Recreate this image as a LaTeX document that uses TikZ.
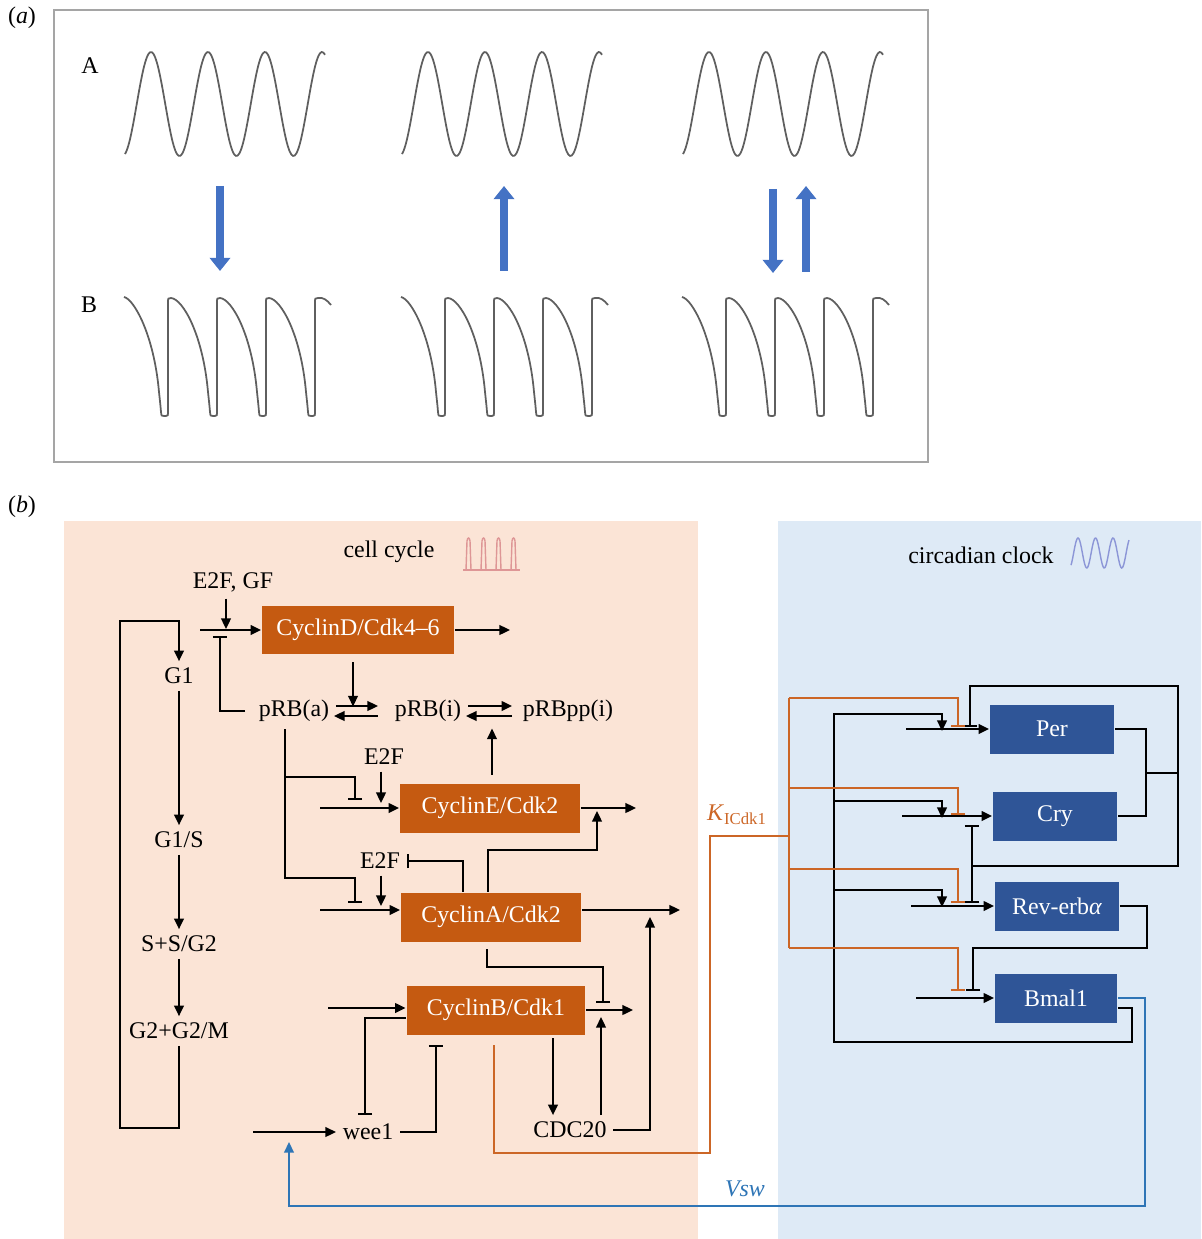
\documentclass[tikz,border=0pt]{standalone}
\usepackage{fontspec}
\setmainfont{Liberation Serif}
\usetikzlibrary{arrows.meta,calc,positioning}
\definecolor{BoxOrange}{RGB}{197,90,17}
\definecolor{BoxBlue}{RGB}{47,85,151}
\definecolor{PaleOrange}{RGB}{251,228,214}
\definecolor{PaleBlue}{RGB}{222,234,246}
\definecolor{LineOrange}{RGB}{204,102,38}
\definecolor{LineBlue}{RGB}{46,117,182}
\definecolor{ArrowBlue}{RGB}{68,114,196}
\definecolor{WaveGray}{RGB}{95,95,95}
\definecolor{FrameGray}{RGB}{165,165,165}
\definecolor{SpikePink}{RGB}{222,150,150}
\definecolor{WavePurple}{RGB}{140,150,215}

\begin{document}
\begin{tikzpicture}[x=0.02cm, y=-0.02cm, line width=1.1pt,
		font=\fontsize{13.6}{16}\selectfont,
		act/.style={-{Triangle[length=6pt,width=5.5pt]}},
		inh/.style={-{Bar[width=8pt]}},
		cbox/.style={fill=BoxOrange, text=white, minimum height=0.98cm, inner sep=0pt},
		bbox/.style={fill=BoxBlue, text=white, minimum height=0.98cm, minimum width=2.48cm, inner sep=0pt},
		kline/.style={LineOrange, line width=1pt},
		vline/.style={LineBlue, line width=1pt},
		wave/.style={WaveGray, line width=1pt},
		bigarrow/.style={ArrowBlue, line width=4.5pt, -{Triangle[length=7.5pt,width=11.5pt]}}]
	\useasboundingbox (0,0) rectangle (1201,1239);
	% (a) waveforms
	\node (pa) at (22,18) {(\textit{a})};
	\draw[FrameGray] (54,10) rectangle (928,462);
	\node (rowA) at (90,66) {A};
	\node (rowB) at (89,305) {B};
	\foreach \sh in {0,277,558}{
		\draw[wave] plot[domain=125:325, samples=120, smooth] ({\x+\sh},{104-52*cos(6.3158*(\x-151))});
		\draw[wave] (124+\sh,297) \foreach \st in {122,171,220,269}{
			.. controls (\st+12+\sh,299) and (\st+32+\sh,335) .. (\st+37+\sh,392)
			.. controls (\st+38.5+\sh,406) .. (\st+39+\sh,412)
			.. controls (\st+39.5+\sh,416) .. (\st+42+\sh,416) -- (\st+44+\sh,416)
			.. controls (\st+46+\sh,416) .. (\st+46+\sh,410) -- (\st+46+\sh,303)
			.. controls (\st+46+\sh,298) .. (\st+49+\sh,298)}
			.. controls (323+\sh,297) and (327+\sh,300) .. (331+\sh,305);
	}
	\draw[bigarrow] (220,186) -- (220,271);
	\draw[bigarrow] (504,271) -- (504,186);
	\draw[bigarrow] (773,189) -- (773,273);
	\draw[bigarrow] (806,272) -- (806,186);
	% (b) panels
	\node (pb) at (22,507) {(\textit{b})};
	\fill[PaleOrange] (64,521) rectangle (698,1239);
	\fill[PaleBlue] (778,521) rectangle (1201,1239);
	\node (cctitle) at (389,552) {cell cycle};
	\node (cltitle) at (981,555) {circadian clock};
	\draw[SpikePink, line width=0.8pt] (463,570) -- (520,570);
	\foreach \px in {466,481,496,511}
		\draw[SpikePink, line width=0.8pt] (\px,570) -- (\px+1,541) .. controls (\px+1.5,537) and (\px+3.5,537) .. (\px+4,541) -- (\px+5,570);
	\draw[WavePurple, line width=0.8pt] plot[domain=1071:1129, samples=80, smooth] (\x,{553-15*cos(20.571*(\x-1078))});
	% cell cycle
	\node[cbox, minimum width=3.84cm] (cycD) at (358,630) {CyclinD/Cdk4--6};
	\node[cbox, minimum width=3.6cm] (cycE) at (490,808) {CyclinE/Cdk2};
	\node[cbox, minimum width=3.6cm] (cycA) at (491,917) {CyclinA/Cdk2};
	\node[cbox, minimum width=3.58cm] (cycB) at (496,1010) {CyclinB/Cdk1};
	\node (e2fgf) at (233,582) {E2F, GF};
	\node (g1) at (179,676) {G1};
	\node (g1s) at (179,840) {G1/S};
	\node (sg2) at (179,944) {S+S/G2};
	\node (g2m) at (179,1031) {G2+G2/M};
	\node (prba) at (294,711) {pRB(a)};
	\node (prbi) at (428,711) {pRB(i)};
	\node (prbpp) at (568,711) {pRBpp(i)};
	\node (e2fE) at (384,757) {E2F};
	\node (e2fA) at (380,861) {E2F};
	\node (wee) at (368,1132) {wee1};
	\node (cdc) at (570,1130) {CDC20};
	\coordinate (dIn) at (200,630);
	\coordinate (dJ) at (226,629);
	\coordinate (dBar) at (220,636);
	\coordinate (dOut) at (510,630);
	\coordinate (eIn) at (320,808);
	\coordinate (eOut) at (636,808);
	\coordinate (eAct) at (381,803);
	\coordinate (eInh) at (355,800);
	\coordinate (eJoin) at (597,811);
	\coordinate (aIn) at (320,910);
	\coordinate (aOut) at (680,910);
	\coordinate (aAct) at (381,906);
	\coordinate (aInh) at (355,903);
	\coordinate (aJoin) at (650,917);
	\coordinate (bIn) at (328,1008);
	\coordinate (bOut) at (633,1010);
	\coordinate (bInh) at (603,1003);
	\coordinate (bJoin) at (601,1017);
	\coordinate (bBar) at (436,1045);
	\coordinate (weeBar) at (365,1115);
	\coordinate (wIn) at (253,1131);
	\coordinate (rbDown) at (285,729);
	\coordinate (loopBL) at (120,1128);
	\coordinate (loopTL) at (120,621);
	\draw[act] (dIn) -- (cycD.west);
	\draw[act] (e2fgf.south -| dJ) -- (dJ);
	\draw[inh] ([xshift=-0.14cm]prba.west) -| (dBar);
	\draw[act] (cycD.east) -- (dOut);
	\draw[act] ($(cycD.south)+(-5,7)$) -- ($(cycD.south)+(-5,51)$);
	% pRB states
	\draw[act] ($(prba.east)+(0,-5)$) -- ($(prbi.west)+(-10,-5)$);
	\draw[act] ($(prbi.west)+(-10,5)$) -- ($(prba.east)+(-2,5)$);
	\draw[act] ($(prbi.east)+(0,-5)$) -- ($(prbpp.west)+(-4,-5)$);
	\draw[act] ($(prbpp.west)+(-4,5)$) -- ($(prbi.east)+(-2,5)$);
	\draw[act] ($(cycE.north)+(2,-8)$) -- ($(cycE.north)+(2,-54)$);
	% pRB(a) inhibits E and A
	\draw[inh] (rbDown) |- ($(eInh)+(0,-23)$) -- (eInh);
	\draw[inh] (rbDown) |- ($(aInh)+(0,-25)$) -- (aInh);
	\draw[act] (e2fE.south -| eAct) -- (eAct);
	\draw[act] (eIn) -- (cycE.west);
	\draw[act] (cycE.east) -- (eOut);
	\draw[act] ($(cycA.north)+(-3,0)$) |- ($(eJoin)+(0,39)$) -- (eJoin);
	\draw[inh] ($(cycA.north)+(-28,0)$) |- (e2fA.east);
	\draw[act] (e2fA.south -| aAct) -- (aAct);
	\draw[act] (aIn) -- (aIn -| cycA.west);
	\draw[act] (aOut -| cycA.east) -- (aOut);
	\draw[act] (cdc.east) -| (aJoin);
	\draw[inh] ($(cycA.south)+(-4,7)$) |- ($(bInh)+(0,-36)$) -- (bInh);
	\draw[act] (bIn) -- (bIn -| cycB.west);
	\draw[act] (cycB.east) -- (bOut);
	\draw[act] (cdc.north -| bJoin) -- (bJoin);
	\draw[act] ($(cycB.south)+(57,3)$) -- ($(cdc.north)+(-17,0)$);
	\draw[inh] ($(cycB.west)+(0,8)$) -| (weeBar);
	\draw[inh] (wee.east) -| (bBar);
	\draw[act] (wee.west -| wIn) -- (wee.west);
	% phases
	\draw[act] (g1.south) -- (g1s.north);
	\draw[act] (g1s.south) -- (sg2.north);
	\draw[act] (sg2.south) -- (g2m.north);
	\draw[act] (g2m.south) |- (loopBL) -- (loopTL) -| (g1.north);
	% circadian clock
	\node[bbox] (per) at (1052,729) {Per};
	\node[bbox] (cry) at (1055,816) {Cry};
	\node[bbox] (rev) at (1057,906) {Rev-erb\textit{α}};
	\node[bbox, minimum width=2.44cm] (bmal) at (1056,998) {Bmal1};
	\coordinate (perJ) at (942,731);
	\coordinate (cryJ) at (942,818);
	\coordinate (revJ) at (942,907);
	\coordinate (perK) at (958,727);
	\coordinate (cryK) at (958,815);
	\coordinate (revK) at (958,903);
	\coordinate (bmalK) at (958,991);
	\coordinate (perC) at (970,727);
	\coordinate (cryC) at (972,825);
	\coordinate (revC) at (972,903);
	\coordinate (bmalC) at (973,991);
	\coordinate (busR) at (1132,1042);
	\coordinate (busTop) at (834,713);
	\coordinate (cxR) at (1146,773);
	\coordinate (cxOut) at (1178,773);
	\coordinate (cxLow) at (972,866);
	\coordinate (revR) at (1147,948);
	\draw[act] ([xshift=-1.66cm]per.west) -- (per.west);
	\draw[act] ([xshift=-1.8cm]cry.west) -- (cry.west);
	\draw[act] ([xshift=-1.66cm]rev.west) -- (rev.west);
	\draw[act] ([xshift=-1.56cm]bmal.west) -- (bmal.west);
	% Bmal1 activates Per, Cry, Rev-erb
	\draw ($(bmal.east)+(0,10)$) -| (busR) -| (busTop);
	\foreach \j in {perJ,cryJ,revJ}
		\draw[act] (busTop |- {$(\j)+(0,-17)$}) -| (\j);
	% Per/Cry complex
	\draw (per.east) -| (cxR) |- (cry.east);
	\draw (cxR) -- (cxOut);
	\draw[inh] (cxOut) |- ($(perC)+(0,-41)$) -- (perC);
	\draw (cxOut) |- (cxLow);
	\draw[inh] (cxLow) -- (cryC);
	\draw[inh] (cxLow) -- (revC);
	\draw[inh] (rev.east) -| (revR) -| (bmalC);
	% K_ICdk1
	\node[text=LineOrange] (kicdk) at (737,815) {\textit{K}\textsubscript{ICdk1}};
	\coordinate (kLow) at (710,1153);
	\coordinate (kHub) at (789,836);
	\draw[kline] ($(cycB.south)+(-2,10)$) |- (kLow) |- (kHub);
	\draw[kline] (789,698) -- (789,948);
	\foreach \k/\y in {perK/698, cryK/788, revK/869, bmalK/948}
		\draw[kline, inh] (789,\y) -| (\k);
	% Vsw
	\node[text=LineBlue] (vsw) at (745,1189) {\textit{Vsw}};
	\coordinate (vLow) at (1145,1206);
	\coordinate (wJoin) at (289,1142);
	\draw[vline, act] (bmal.east) -| (vLow) -| (wJoin);
\end{tikzpicture}
\end{document}
